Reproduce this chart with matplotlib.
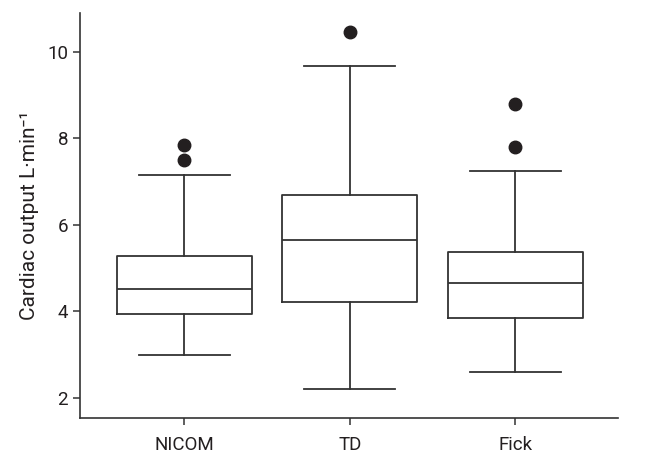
import matplotlib
matplotlib.use("Agg")
import matplotlib.pyplot as plt

plt.rcParams['font.family'] = ['Roboto', 'DejaVu Sans']

# Box statistics (L/min)
groups = ["NICOM", "TD", "Fick"]
medians = [4.52, 5.66, 4.66]
q1 = [3.95, 4.22, 3.86]
q3 = [5.28, 6.69, 5.37]
whis_lo = [2.99, 2.21, 2.60]
whis_hi = [7.16, 9.66, 7.25]
outliers = [[7.84, 7.49], [10.46], [8.78, 7.79]]

stats = []
for i, name in enumerate(groups):
    stats.append({
        "label": name,
        "med": medians[i],
        "q1": q1[i],
        "q3": q3[i],
        "whislo": whis_lo[i],
        "whishi": whis_hi[i],
        "fliers": outliers[i],
    })

line_col = "#333333"

fig = plt.figure(figsize=(6.68, 4.55), dpi=100)
ax = fig.add_axes([0.1198, 0.0813, 0.805, 0.89])

ax.bxp(
    stats,
    positions=[1, 2, 3],
    widths=0.815,
    showfliers=True,
    boxprops=dict(color=line_col, linewidth=1.3),
    medianprops=dict(color=line_col, linewidth=1.3),
    whiskerprops=dict(color=line_col, linewidth=1.3),
    capprops=dict(color=line_col, linewidth=1.3),
    capwidths=0.55,
    flierprops=dict(marker="o", markersize=9, markerfacecolor="#231f20",
                    markeredgecolor="#231f20"),
)

ax.set_xlim(0.37, 3.62)
ax.set_ylim(1.54, 10.89)
ax.set_yticks([2, 4, 6, 8, 10])
ax.set_xticks([1, 2, 3])
ax.set_xticklabels(groups)

for side in ["top", "right"]:
    ax.spines[side].set_visible(False)
for side in ["left", "bottom"]:
    ax.spines[side].set_color(line_col)
    ax.spines[side].set_linewidth(1.2)

ax.tick_params(axis="both", colors=line_col, labelcolor="#231f20",
               labelsize=13.5, length=5, width=1.1)
ax.tick_params(axis="x", pad=8)
ax.set_ylabel("Cardiac output L·min⁻¹", fontsize=15, color="#231f20", labelpad=6)

fig.savefig("out.png", dpi=100)
